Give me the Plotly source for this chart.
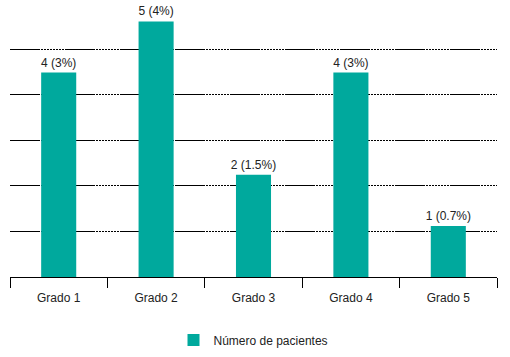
import plotly.graph_objects as go

categories = ["Grado 1", "Grado 2", "Grado 3", "Grado 4", "Grado 5"]
patients = [4, 5, 2, 4, 1]
labels = ["4 (3%)", "5 (4%)", "2 (1.5%)", "4 (3%)", "1 (0.7%)"]
series_name = "Número de pacientes"

teal = "#00a99d"
dotted = ",".join(["2px,1px"] * 8)
grid_dash = "30px,1px," + dotted

fig = go.Figure()
fig.add_trace(go.Bar(
    x=categories, y=patients, name=series_name,
    marker=dict(color=teal, line=dict(width=0)),
    text=labels, textposition="outside", cliponaxis=False, constraintext="none",
    textfont=dict(family="Liberation Sans, Arial, sans-serif", size=12, color="#222"),
    showlegend=True,
))

fig.update_layout(
    width=510, height=357,
    margin=dict(l=10, r=13, t=4, b=80, autoexpand=False),
    paper_bgcolor="white", plot_bgcolor="white",
    font=dict(family="Liberation Sans, Arial, sans-serif", size=12, color="#222"),
    bargap=0.64,
    showlegend=True,
    legend=dict(orientation="h", x=0.5, xanchor="center", y=-0.231, yanchor="middle",
                font=dict(size=12, color="#222")),
    xaxis=dict(showline=True, linecolor="black", linewidth=1, automargin=False,
               ticks="outside", tickson="boundaries", ticklen=10, tickcolor="black",
               ticklabelstandoff=10, showgrid=False),
    yaxis=dict(range=[0, 5.34], dtick=0.8917, tick0=0, showticklabels=False,
               automargin=False,
               showgrid=True, gridcolor="black", gridwidth=1, griddash=grid_dash,
               zeroline=False, showline=False, ticks=""),
)

fig.write_html("out.html", config={"displayModeBar": False},
               post_script="document.body.style.margin='0';")
